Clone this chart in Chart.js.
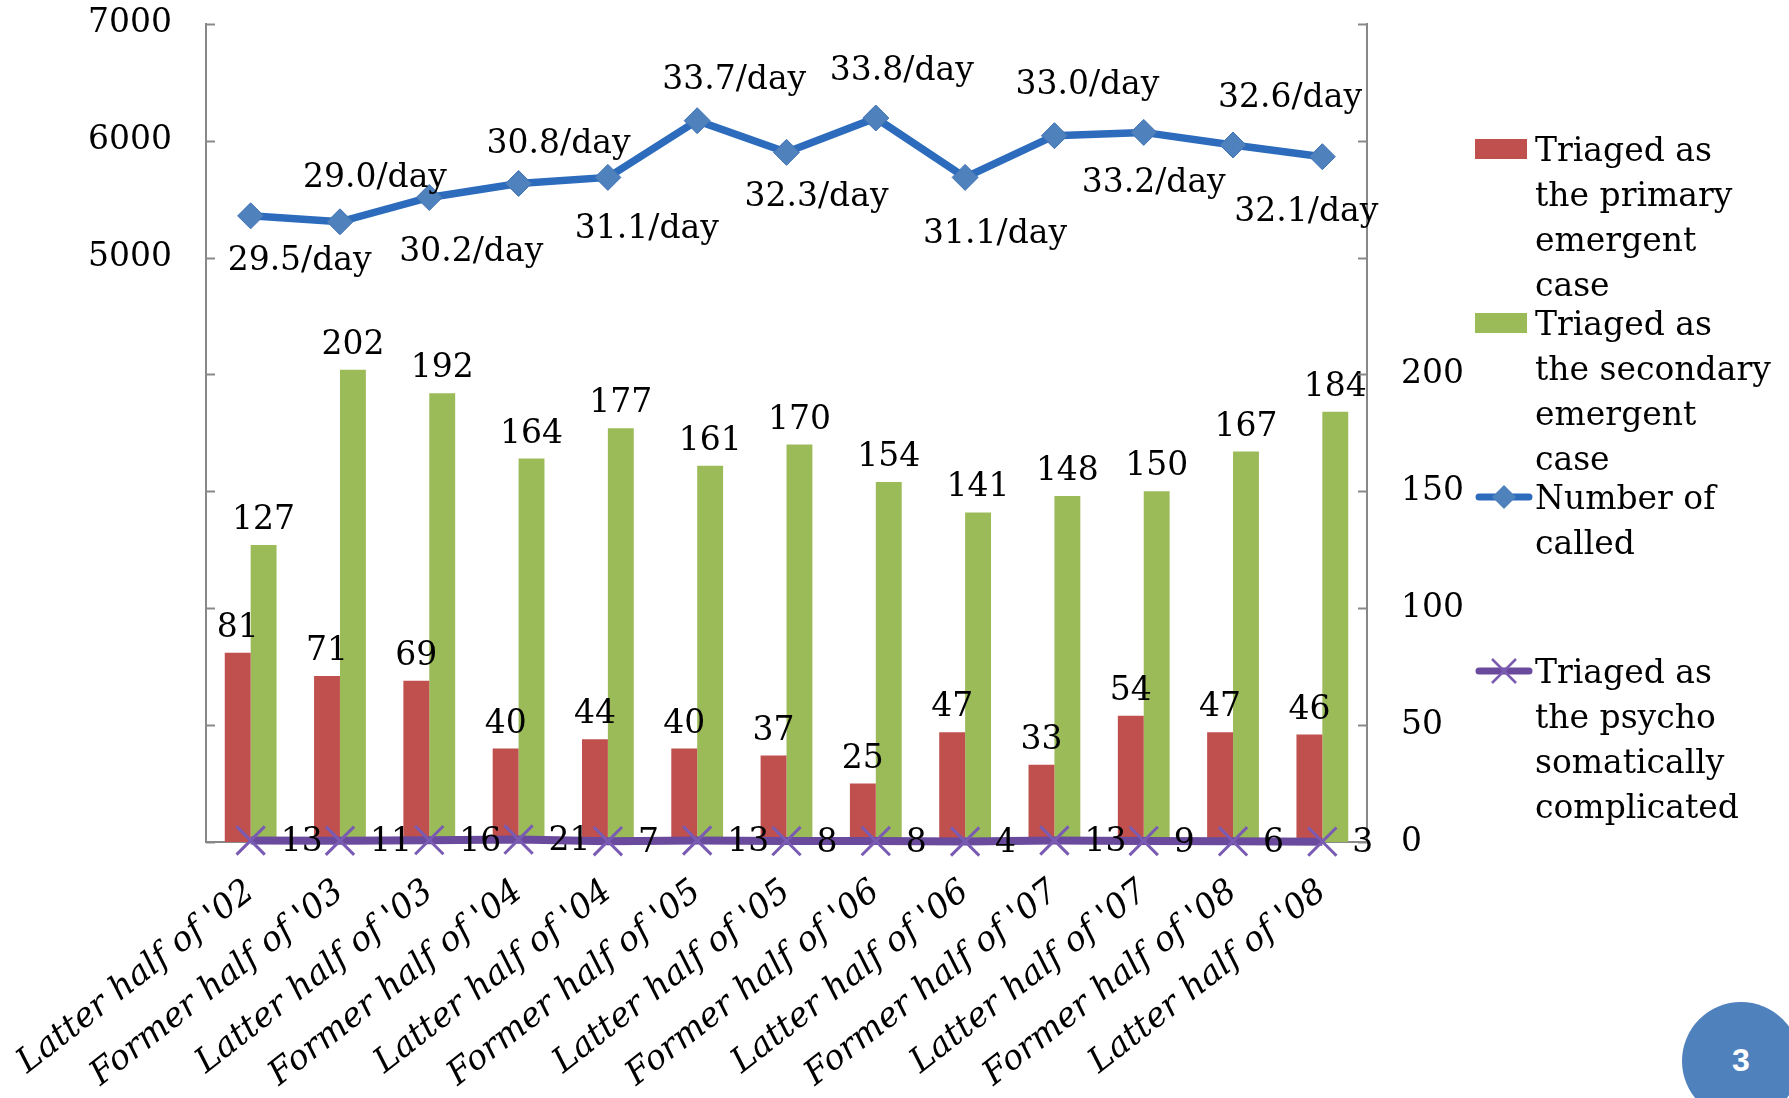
<!doctype html>
<html lang="en">
<head>
  <meta charset="utf-8">
  <title>Triage counts by half-year</title>
  <script src="https://cdn.jsdelivr.net/npm/chart.js"></script>
  <style>
    html, body { margin: 0; padding: 0; background: #fff; }
    #wrap { position: relative; width: 1789px; height: 1098px; overflow: hidden; }
    #legend { position: absolute; left: 1475px; top: 0; font-family: "DejaVu Serif"; font-size: 33px; line-height: 45px; color: #000; }
    .item { position: absolute; left: 0; width: 320px; }
    .sym { position: absolute; left: 0; top: 12px; }
    .txt { position: absolute; left: 60px; top: 0; white-space: nowrap; }
    #page { position: absolute; left: 1682px; top: 1002px; width: 118px; height: 118px; border-radius: 50%;
            background: #4F81BD; color: #fff; font: bold 32px "Liberation Sans"; }
    #page span { position: absolute; left: 50px; top: 40px; }
  </style>
</head>
<body>
<div id="wrap">
  <canvas id="triageChart" width="1789" height="1098"></canvas>
  <div id="legend">
    <div class="item" style="top:127px">
      <div class="sym" style="width:52px;height:20px;background:#C0504D"></div>
      <div class="txt">Triaged as<br>the primary<br>emergent<br>case</div>
    </div>
    <div class="item" style="top:301px">
      <div class="sym" style="width:52px;height:20px;background:#9BBB59"></div>
      <div class="txt">Triaged as<br>the secondary<br>emergent<br>case</div>
    </div>
    <div class="item" style="top:475px">
      <svg class="sym" style="top:0" width="58" height="45"><line x1="4" y1="22" x2="54" y2="22" stroke="#2D6CBD" stroke-width="7" stroke-linecap="round"/><polygon points="29,10 41,22 29,34 17,22" fill="#4F81BD"/></svg>
      <div class="txt">Number of<br>called</div>
    </div>
    <div class="item" style="top:649px">
      <svg class="sym" style="top:0" width="58" height="45"><line x1="4" y1="22" x2="54" y2="22" stroke="#6A4A9C" stroke-width="7" stroke-linecap="round"/><line x1="17" y1="10" x2="41" y2="34" stroke="#7A5BB0" stroke-width="2.5"/><line x1="41" y1="10" x2="17" y2="34" stroke="#7A5BB0" stroke-width="2.5"/></svg>
      <div class="txt">Triaged as<br>the psycho<br>somatically<br>complicated</div>
    </div>
  </div>
  <div id="page"><span>3</span></div>
</div>

<script>
  // values
  const categories = [
    "Latter half of '02", "Former half of '03", "Latter half of '03", "Former half of '04",
    "Latter half of '04", "Former half of '05", "Latter half of '05", "Former half of '06",
    "Latter half of '06", "Former half of '07", "Latter half of '07", "Former half of '08",
    "Latter half of '08"
  ];
  const primaryCases = [81, 71, 69, 40, 44, 40, 37, 25, 47, 33, 54, 47, 46];
  const secondaryCases = [127, 202, 192, 164, 177, 161, 170, 154, 141, 148, 150, 167, 184];
  const calledCounts = [5357, 5306, 5514, 5634, 5686, 6171, 5900, 6194, 5686, 6043, 6071, 5963, 5863];
  const perDay = ['29.5/day', '29.0/day', '30.2/day', '30.8/day', '31.1/day', '33.7/day', '32.3/day',
                  '33.8/day', '31.1/day', '33.0/day', '33.2/day', '32.6/day', '32.1/day'];
  const psychoCases = [13, 11, 16, 21, 7, 13, 8, 8, 4, 13, 9, 6, 3];

  // hand placement of the "/day" labels, as nudged in the original slide
  const perDayNudgeX = [49, 35, 42, 40, 39, 37, 30, 26, 30, 33, 10, 57, -16];
  const perDayNudgeY = [46, -43, 55, -39, 52, -40, 45, -47, 57, -50, 51, -47, 56];

  const FONT = '"DejaVu Serif"';

  // short tick marks pointing into the plot, like the original
  const innerTicks = {
    id: 'innerTicks',
    afterDraw(chart) {
      const ctx = chart.ctx;
      ctx.save();
      ctx.strokeStyle = '#888';
      ctx.lineWidth = 2;
      ['y', 'y1'].forEach(id => {
        const s = chart.scales[id];
        const x0 = id === 'y' ? s.right : s.left;
        const dir = id === 'y' ? 1 : -1;
        s.ticks.forEach(t => {
          const py = Math.round(s.getPixelForValue(t.value)) + 0.5;
          ctx.beginPath();
          ctx.moveTo(x0, py);
          ctx.lineTo(x0 + dir * 9, py);
          ctx.stroke();
        });
      });
      ctx.restore();
    }
  };

  // data labels
  const valueLabels = {
    id: 'valueLabels',
    afterDatasetsDraw(chart) {
      const ctx = chart.ctx;
      ctx.save();
      ctx.font = '33px ' + FONT;
      ctx.fillStyle = '#000';
      chart.data.datasets.forEach((ds, i) => {
        const meta = chart.getDatasetMeta(i);
        meta.data.forEach((el, j) => {
          if (ds.labelMode === 'bar') {
            ctx.textAlign = 'center';
            ctx.textBaseline = 'bottom';
            ctx.fillText(String(ds.data[j]), el.x, el.y - 8);
          } else if (ds.labelMode === 'perDay') {
            ctx.textAlign = 'center';
            ctx.textBaseline = 'middle';
            ctx.fillText(perDay[j], el.x + perDayNudgeX[j], el.y + perDayNudgeY[j]);
          } else if (ds.labelMode === 'right') {
            ctx.textAlign = 'left';
            ctx.textBaseline = 'middle';
            ctx.fillText(String(ds.data[j]), el.x + 30, el.y + 2);
          }
        });
      });
      ctx.restore();
    }
  };

  const ctx = document.getElementById('triageChart').getContext('2d');
  new Chart(ctx, {
    type: 'bar',
    data: {
      labels: categories,
      datasets: [
        {
          type: 'line', label: 'Number of called', data: calledCounts, yAxisID: 'y', order: 1,
          borderColor: '#2D6CBD', borderWidth: 7.5, backgroundColor: '#4F81BD',
          pointStyle: 'rectRot', pointRadius: 13, pointBackgroundColor: '#4F81BD',
          pointBorderColor: '#3F72B6', pointBorderWidth: 1, tension: 0, labelMode: 'perDay'
        },
        {
          type: 'line', label: 'Triaged as the psycho somatically complicated', data: psychoCases, yAxisID: 'y', order: 0,
          borderColor: '#6A4A9C', borderWidth: 8, backgroundColor: '#7A5BB0', clip: false,
          pointStyle: 'crossRot', pointRadius: 20, pointBorderColor: '#7A5BB3', pointBorderWidth: 3,
          tension: 0, labelMode: 'right'
        },
        {
          label: 'Triaged as the primary emergent case', data: primaryCases, yAxisID: 'y1', order: 2,
          backgroundColor: '#C0504D', categoryPercentage: 0.58, barPercentage: 1.0, labelMode: 'bar'
        },
        {
          label: 'Triaged as the secondary emergent case', data: secondaryCases, yAxisID: 'y1', order: 2,
          backgroundColor: '#9BBB59', categoryPercentage: 0.58, barPercentage: 1.0, labelMode: 'bar'
        }
      ]
    },
    options: {
      responsive: false,
      animation: false,
      devicePixelRatio: 1,
      layout: { padding: 0 },
      plugins: { legend: { display: false }, tooltip: { enabled: false } },
      scales: {
        x: {
          grid: { display: false, drawTicks: false },
          border: { display: true, color: '#888', width: 2 },
          ticks: {
            autoSkip: false, minRotation: 38, maxRotation: 38, padding: 30, color: '#000',
            font: { family: FONT, style: 'italic', size: 34 }
          },
          afterFit: s => { s.height = 256; s.paddingLeft = 0; s.paddingRight = 0; }
        },
        y: {
          position: 'left', min: 0, max: 7000,
          grid: { display: false, drawTicks: true, tickLength: 30 },
          border: { display: true, color: '#888', width: 2 },
          ticks: {
            stepSize: 1000, padding: 4, color: '#000', font: { family: FONT, size: 33 },
            callback: v => (v >= 5000 ? v : '')
          },
          afterFit: s => { s.width = 206; }
        },
        y1: {
          position: 'right', min: 0, max: 350,
          grid: { display: false, drawTicks: true, tickLength: 30 },
          border: { display: true, color: '#888', width: 2 },
          ticks: {
            stepSize: 50, padding: 4, color: '#000', font: { family: FONT, size: 33 },
            callback: v => (v <= 200 ? v : '')
          },
          afterFit: s => { s.width = 422; }
        }
      }
    },
    plugins: [innerTicks, valueLabels]
  });
</script>
</body>
</html>
